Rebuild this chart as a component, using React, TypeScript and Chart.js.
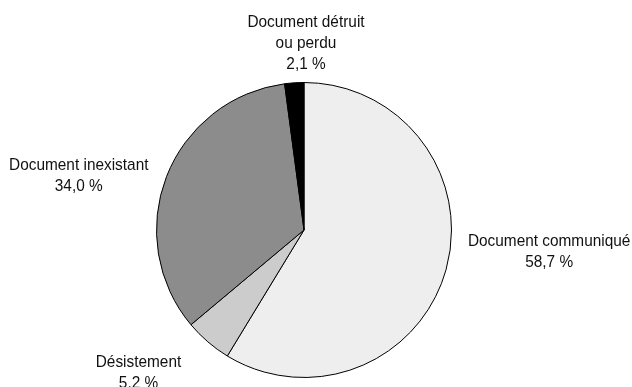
import React, { useEffect, useRef } from "react";
import { Chart, registerables } from "chart.js";

Chart.register(...registerables);

const categories = ["Document communiqué", "Désistement", "Document inexistant", "Document détruit ou perdu"];
const labelLines = [["Document communiqué"], ["Désistement"], ["Document inexistant"], ["Document détruit", "ou perdu"]];
const values = [58.7, 5.2, 34.0, 2.1];
const valueLabels = ["58,7 %", "5,2 %", "34,0 %", "2,1 %"];
const colors = ["#eeeeee", "#cccccc", "#8c8c8c", "#000000"];

// label block: [horizontal center, first baseline], relative to pie center, in units of outer radius
const labelPlacement = [
  [1.662, 0.106],
  [-1.122, 0.932],
  [-1.527, -0.405],
  [0.0135, -1.378],
];

const FONT = '17px "Liberation Sans Narrow", "Liberation Sans", Arial, sans-serif';
const LINE_H = 21;
const CONDENSE = 0.905;

const labelPlugin = {
  id: "pieLabels",
  afterDraw(chart: any) {
    const ctx = chart.ctx;
    const meta = chart.getDatasetMeta(0);
    meta.data.forEach((arc: any, i: number) => {
      const r = arc.outerRadius;
      const cx = arc.x + labelPlacement[i][0] * r;
      const top = arc.y + labelPlacement[i][1] * r;
      const lines = [...labelLines[i], valueLabels[i]];
      ctx.save();
      ctx.translate(cx, 0);
      ctx.scale(CONDENSE, 1);
      ctx.font = FONT;
      ctx.fillStyle = "#111111";
      ctx.textAlign = "center";
      ctx.textBaseline = "alphabetic";
      lines.forEach((t, k) => ctx.fillText(t, 0, top + k * LINE_H));
      ctx.restore();
    });
  },
};

export default function App() {
  const ref = useRef<HTMLCanvasElement>(null);
  useEffect(() => {
    const chart = new Chart(ref.current!, {
      type: "pie",
      data: {
        labels: categories,
        datasets: [
          {
            data: values,
            backgroundColor: colors,
            borderColor: "#000000",
            borderWidth: 1,
          },
        ],
      },
      options: {
        responsive: false,
        animation: false,
        layout: { padding: { top: 82, bottom: 9, left: 156, right: 180 } },
        plugins: {
          legend: { display: false },
          tooltip: { enabled: false },
        },
      },
      plugins: [labelPlugin],
    });
    return () => chart.destroy();
  }, []);
  return (
    <div style={{ position: "fixed", left: 0, top: 0, width: 632, height: 387, background: "#ffffff" }}>
      <canvas ref={ref} width={632} height={387} style={{ display: "block" }} />
    </div>
  );
}
